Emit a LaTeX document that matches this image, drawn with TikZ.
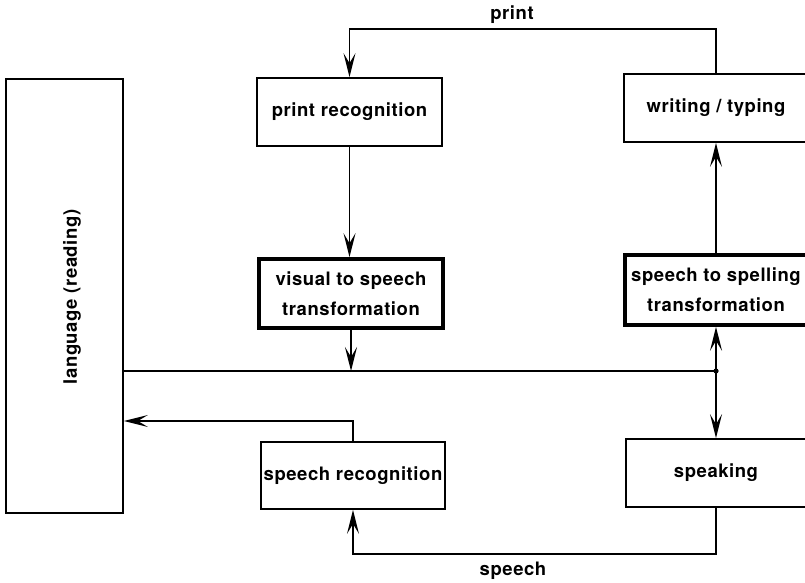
\documentclass[tikz,border=0pt]{standalone}
\usepackage{fontspec}
\setmainfont[LetterSpace=3]{TeX Gyre Heros}
\usetikzlibrary{arrows.meta,calc}
\begin{document}
\begin{tikzpicture}[x=1pt,y=-1pt,
  every node/.style={font=\fontsize{18.5}{30}\selectfont\bfseries, inner sep=0pt},
  box/.style={draw, line width=1.7pt, rectangle, align=center},
  thickbox/.style={box, line width=3.6pt},
  conn/.style={line width=1.6pt},
  arr/.style={conn, -{Stealth[length=24pt,width=12pt,inset=10pt]}},
  lbl/.style={}]
\useasboundingbox (0,0) rectangle (805,582);
\clip (0,0) rectangle (805,582);
\fill[white] (0,0) rectangle (805,582);
% boxes
\node[box, minimum width=117pt, minimum height=434pt] (lang) at (64.5,296) {};
\node[rotate=90] (langtxt) at (72,297) {language (reading)};
\node[box, minimum width=185pt, minimum height=68pt] (prrec) at (349.5,112) {print recognition};
\node[thickbox, minimum width=184pt, minimum height=69pt] (vis) at (351,293.5) {visual to speech\\transformation};
\node[box, minimum width=184pt, minimum height=67pt] (sprec) at (353,475.5) {speech recognition};
\node[box, minimum width=184pt, minimum height=68pt] (writ) at (716,108) {writing / typing};
\node[thickbox, minimum width=182pt, minimum height=70pt] (spel) at (716,290) {speech to spelling\\transformation};
\node[box, minimum width=180pt, minimum height=68pt] (speak) at (716,473) {speaking};
% labels
\node[lbl] (printlbl) at (512,15) {print};
\node[lbl] (speechlbl) at (513,571) {speech};
% helper coordinates
\coordinate (J) at (716,371);
\coordinate (top) at (530,29);
\coordinate (bot) at (530,554);
\coordinate (lb) at (124,421);
% connectors
\draw[arr] (writ.north) |- (top) -| (prrec.north);
\draw[arr] (prrec.south) -- (prrec.south |- vis.north);
\draw[arr] (vis.south) -- (vis.south |- J);
\draw[conn] (lang.east |- J) -- (J);
\fill (J) circle (2.6pt);
\draw[arr] (J) -- (spel.south);
\draw[arr] (J) -- (speak.north);
\draw[arr] (spel.north) -- (writ.south);
\draw[arr] (speak.south) |- (bot) -| (sprec.south);
\draw[arr] (sprec.north) |- (lang.east |- lb);
\end{tikzpicture}
\end{document}
